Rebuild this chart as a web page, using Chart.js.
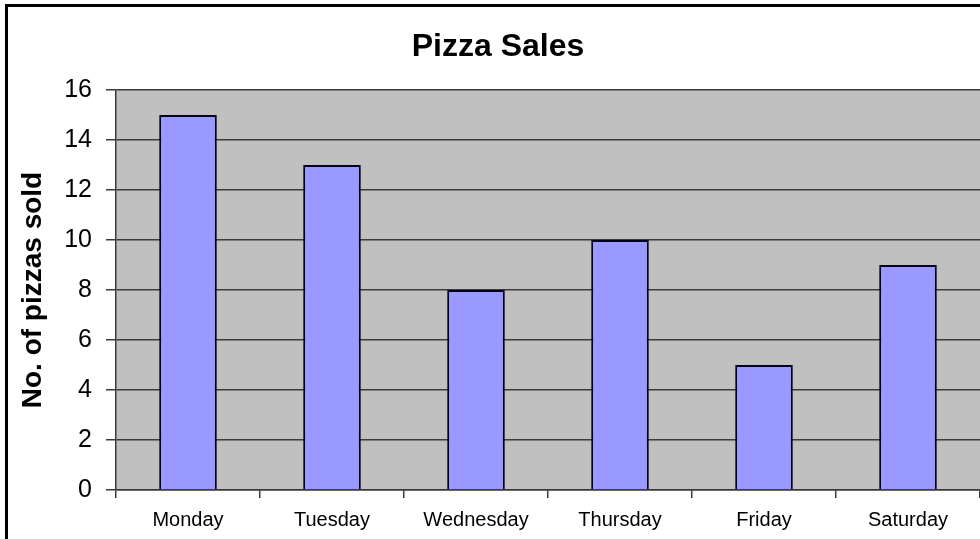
<!DOCTYPE html>
<html>
<head>
<meta charset="utf-8">
<script src="https://cdn.jsdelivr.net/npm/chart.js@4"></script>
<style>
  html, body { margin: 0; padding: 0; background: #fff; overflow: hidden; }
  #wrap { position: relative; width: 980px; height: 539px; }
  #frame {
    position: absolute; left: 5px; top: 4px; width: 1000px; height: 560px;
    border-top: 3px solid #000; border-left: 3px solid #000; pointer-events: none;
  }
</style>
</head>
<body>
<div id="wrap">
  <canvas id="pizzaChart" width="980" height="539"></canvas>
  <div id="frame"></div>
</div>
<script>
const days = ['Monday', 'Tuesday', 'Wednesday', 'Thursday', 'Friday', 'Saturday'];
const pizzasSold = [15, 13, 8, 10, 5, 9];
const yMin = 0;
const yMax = 16;
const yStep = 2;

const plotBackground = {
  id: 'plotBackground',
  beforeDraw(chart) {
    const { ctx, chartArea } = chart;
    ctx.save();
    ctx.fillStyle = '#c0c0c0';
    ctx.fillRect(chartArea.left, chartArea.top, chartArea.right - chartArea.left, chartArea.bottom - chartArea.top);
    ctx.restore();
  }
};

window.addEventListener('DOMContentLoaded', () => {
  const ctx = document.getElementById('pizzaChart');
  new Chart(ctx, {
    type: 'bar',
    data: {
      labels: days,
      datasets: [{
        data: pizzasSold,
        backgroundColor: '#9999ff',
        borderColor: '#000022',
        borderWidth: 2,
        barPercentage: 0.4,
        categoryPercentage: 1
      }]
    },
    options: {
      responsive: false,
      animation: false,
      layout: { padding: { left: 16, right: 0, top: 0, bottom: 0 } },
      plugins: {
        legend: { display: false },
        tooltip: { enabled: false },
        title: {
          display: true,
          text: 'Pizza Sales',
          color: '#000',
          font: { family: 'Liberation Sans, Arial, sans-serif', size: 32, weight: 'bold' },
          padding: { top: 28, bottom: 23.6 }
        }
      },
      scales: {
        x: {
          afterFit(scale) { scale.height = 49; },
          grid: {
            offset: true,
            drawOnChartArea: false,
            color: '#3a3a3a',
            lineWidth: 1.5,
            tickLength: 8
          },
          border: { color: '#3a3a3a', width: 1.5 },
          ticks: {
            color: '#000',
            padding: 10,
            font: { family: 'Liberation Sans, Arial, sans-serif', size: 20 }
          }
        },
        y: {
          min: yMin,
          max: yMax,
          afterFit(scale) { scale.width = 100; },
          grid: {
            color: '#3a3a3a',
            lineWidth: 1.5,
            tickLength: 10
          },
          border: { color: '#3a3a3a', width: 1.5 },
          ticks: {
            stepSize: yStep,
            color: '#000',
            padding: 14,
            font: { family: 'Liberation Sans, Arial, sans-serif', size: 25 }
          },
          title: {
            display: true,
            text: 'No. of pizzas sold',
            color: '#000',
            padding: { top: 0, bottom: 0 },
            font: { family: 'Liberation Sans, Arial, sans-serif', size: 28, weight: 'bold' }
          }
        }
      }
    },
    plugins: [plotBackground]
  });
});
</script>
</body>
</html>
